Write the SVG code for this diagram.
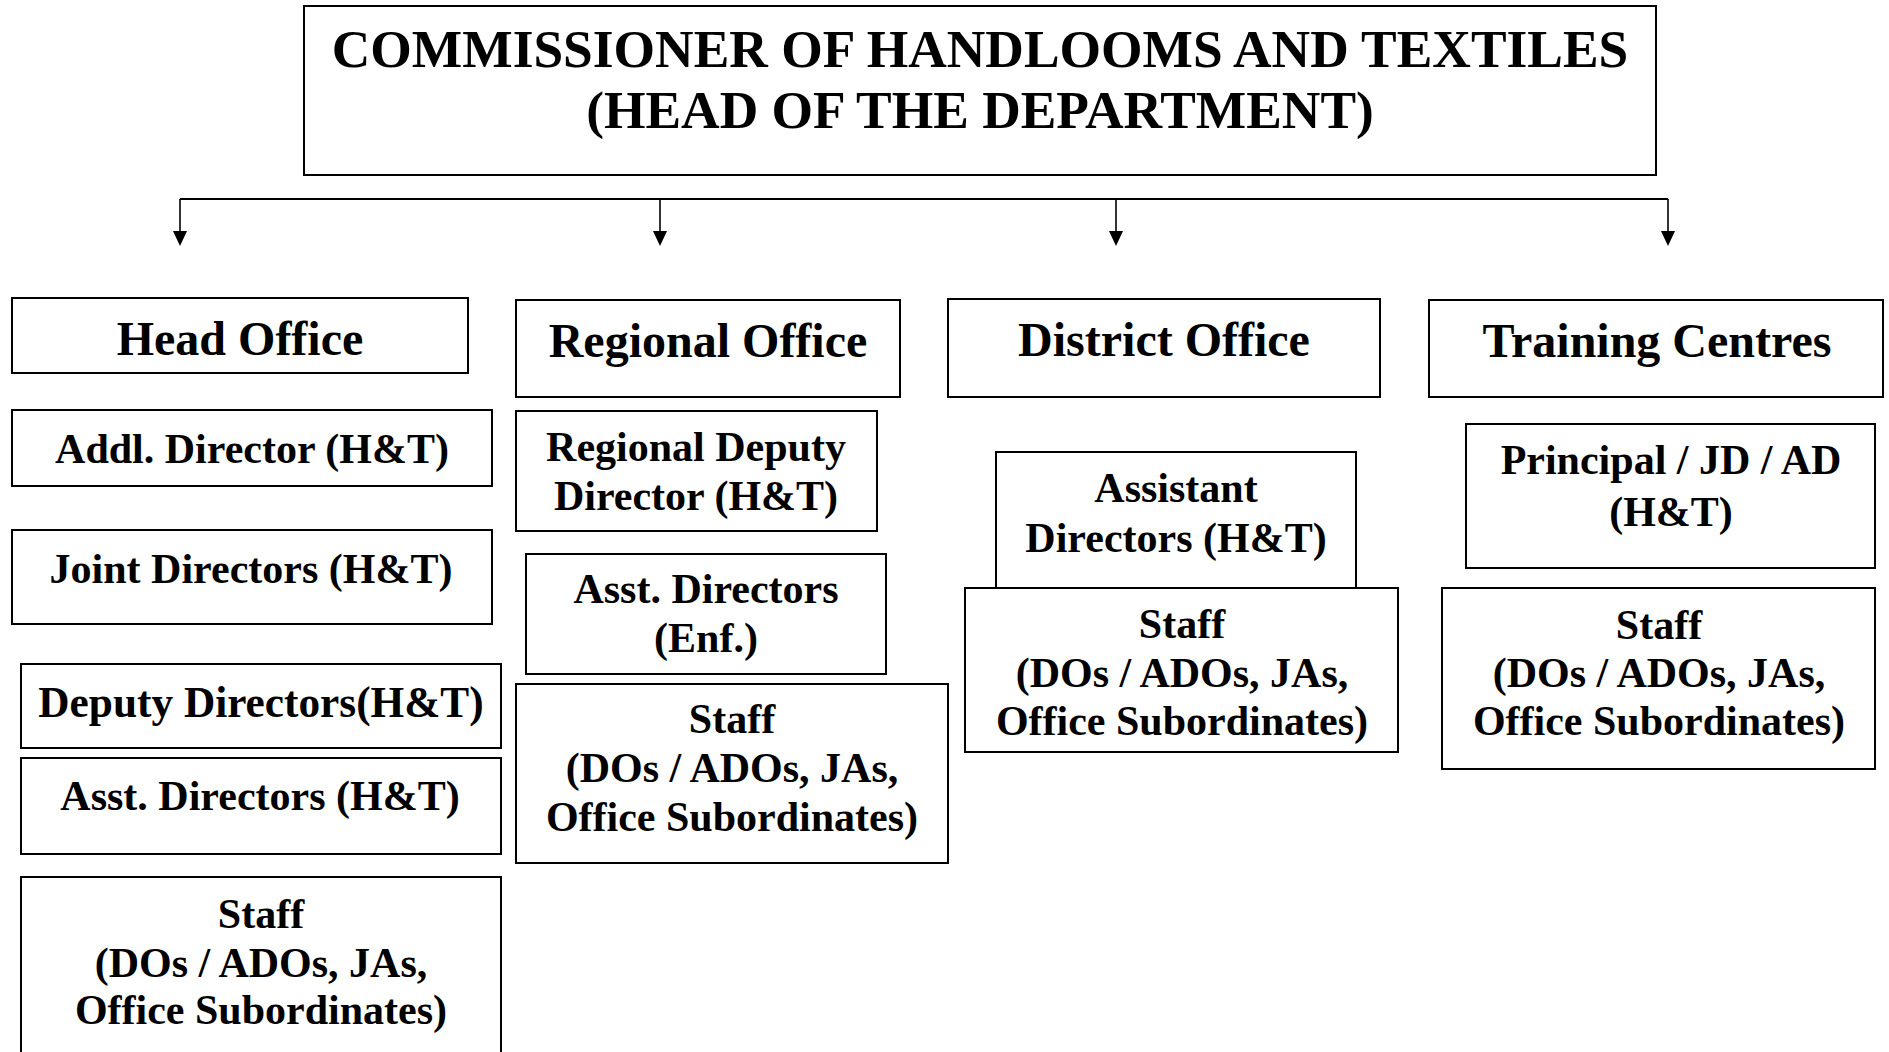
<svg xmlns="http://www.w3.org/2000/svg" width="1889" height="1052" viewBox="0 0 1889 1052">
<style>
  .box { fill: #ffffff; stroke: #000000; stroke-width: 2; }
  text { font-family: "Liberation Serif", "Times New Roman", serif; font-weight: bold; fill: #000000; text-anchor: middle; }
  .t1 { font-size: 53.4px; }
  .t2 { font-size: 48px; }
  .t3 { font-size: 42px; }
  .t3b { font-size: 43.3px; }
  .conn { fill: none; stroke: #000000; stroke-width: 2; }
  .drop { fill: none; stroke: #000000; stroke-width: 1.6; }
</style>
<rect width="1889" height="1052" fill="#ffffff"/>

<g id="commissioner">
  <rect class="box" x="304" y="6" width="1352" height="169"/>
  <text class="t1" x="980" y="67">COMMISSIONER OF HANDLOOMS AND TEXTILES</text>
  <text class="t1" x="980" y="128">(HEAD OF THE DEPARTMENT)</text>
</g>

<g id="connectors">
  <path class="conn" d="M180,199 H1668"/>
  <path class="drop" d="M180,199 V231"/>
  <path class="drop" d="M660,199 V231"/>
  <path class="drop" d="M1116,199 V231"/>
  <path class="drop" d="M1668,199 V231"/>
  <polygon points="173,231 187,231 180,246" fill="#000"/>
  <polygon points="653,231 667,231 660,246" fill="#000"/>
  <polygon points="1109,231 1123,231 1116,246" fill="#000"/>
  <polygon points="1661,231 1675,231 1668,246" fill="#000"/>
</g>

<g id="head-office">
  <rect class="box" x="12" y="298" width="456" height="75"/>
  <text class="t2" x="240" y="355">Head Office</text>
</g>
<g id="regional-office">
  <rect class="box" x="516" y="300" width="384" height="97"/>
  <text class="t2" x="708" y="357">Regional Office</text>
</g>
<g id="district-office">
  <rect class="box" x="948" y="299" width="432" height="98"/>
  <text class="t2" x="1164" y="356">District Office</text>
</g>
<g id="training-centres">
  <rect class="box" x="1429" y="300" width="454" height="97"/>
  <text class="t2" x="1657" y="357">Training Centres</text>
</g>

<g id="addl-director">
  <rect class="box" x="12" y="410" width="480" height="76"/>
  <text class="t3" x="252" y="463">Addl. Director (H&amp;T)</text>
</g>
<g id="joint-directors">
  <rect class="box" x="12" y="530" width="480" height="94"/>
  <text class="t3" x="251" y="583">Joint Directors (H&amp;T)</text>
</g>
<g id="deputy-directors">
  <rect class="box" x="21" y="664" width="480" height="84"/>
  <text class="t3b" x="261" y="717">Deputy Directors(H&amp;T)</text>
</g>
<g id="asst-directors-ho">
  <rect class="box" x="21" y="758" width="480" height="96"/>
  <text class="t3" x="260" y="810">Asst. Directors (H&amp;T)</text>
</g>
<g id="staff-ho">
  <rect class="box" x="21" y="877" width="480" height="190"/>
  <text class="t3" x="261" y="928">Staff</text>
  <text class="t3" x="261" y="977">(DOs / ADOs, JAs,</text>
  <text class="t3" x="261" y="1024">Office Subordinates)</text>
</g>

<g id="regional-deputy-director">
  <rect class="box" x="516" y="411" width="361" height="120"/>
  <text class="t3" x="696" y="461">Regional Deputy</text>
  <text class="t3" x="696" y="510">Director (H&amp;T)</text>
</g>
<g id="asst-directors-enf">
  <rect class="box" x="526" y="554" width="360" height="120"/>
  <text class="t3" x="706" y="603">Asst. Directors</text>
  <text class="t3" x="706" y="652">(Enf.)</text>
</g>
<g id="staff-ro">
  <rect class="box" x="516" y="684" width="432" height="179"/>
  <text class="t3" x="732" y="733">Staff</text>
  <text class="t3" x="732" y="782">(DOs / ADOs, JAs,</text>
  <text class="t3" x="732" y="831">Office Subordinates)</text>
</g>

<g id="assistant-directors-do">
  <rect class="box" x="996" y="452" width="360" height="136"/>
  <text class="t3" x="1176" y="502">Assistant</text>
  <text class="t3" x="1176" y="552">Directors (H&amp;T)</text>
</g>
<g id="staff-do">
  <rect class="box" x="965" y="588" width="433" height="164"/>
  <text class="t3" x="1182" y="638">Staff</text>
  <text class="t3" x="1182" y="687">(DOs / ADOs, JAs,</text>
  <text class="t3" x="1182" y="735">Office Subordinates)</text>
</g>

<g id="principal">
  <rect class="box" x="1466" y="424" width="409" height="144"/>
  <text class="t3" x="1671" y="474">Principal / JD / AD</text>
  <text class="t3" x="1671" y="526">(H&amp;T)</text>
</g>
<g id="staff-tc">
  <rect class="box" x="1442" y="588" width="433" height="181"/>
  <text class="t3" x="1659" y="639">Staff</text>
  <text class="t3" x="1659" y="687">(DOs / ADOs, JAs,</text>
  <text class="t3" x="1659" y="735">Office Subordinates)</text>
</g>
</svg>
